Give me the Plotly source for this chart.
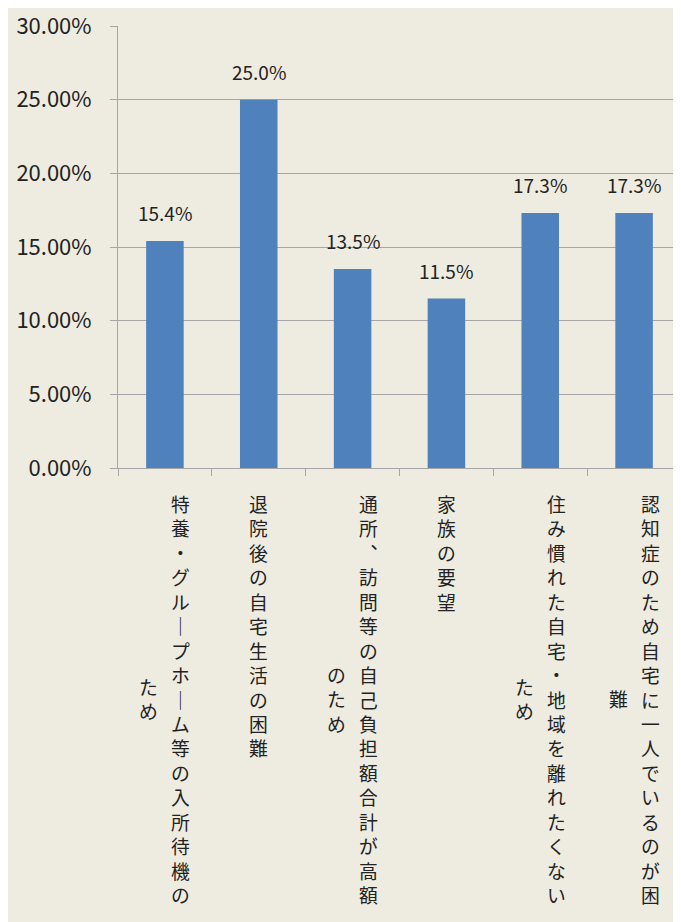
import plotly.graph_objects as go

categories = [
    "特養・グループホーム等の入所待機のため",
    "退院後の自宅生活の困難",
    "通所、訪問等の自己負担額合計が高額のため",
    "家族の要望",
    "住み慣れた自宅・地域を離れたくないため",
    "認知症のため自宅に一人でいるのが困難",
]
values = [0.154, 0.250, 0.135, 0.115, 0.173, 0.173]
value_labels = ["15.4%", "25.0%", "13.5%", "11.5%", "17.3%", "17.3%"]
tick_vals = [0, 0.05, 0.10, 0.15, 0.20, 0.25, 0.30]
tick_text = ["0.00%", "5.00%", "10.00%", "15.00%", "20.00%", "25.00%", "30.00%"]

BG = "#EEECE1"
BAR = "#4F81BD"
FONT = "Noto Sans CJK JP"
CHARS_PER_COL = 17
FS = 18.8
PITCH = FS * 1.3
VERT = {"ー": "｜", "、": "︑"}

fig = go.Figure()
fig.add_trace(go.Bar(
    x=list(range(len(categories))), y=values,
    marker=dict(color=BAR, line=dict(width=0)),
    hoverinfo="skip",
))

annotations = []
for i, (v, t) in enumerate(zip(values, value_labels)):
    annotations.append(dict(
        x=i, y=v, xref="x", yref="y", text=t, showarrow=False,
        yanchor="bottom", yshift=13,
        font=dict(family=FONT, size=19, color="#222222"),
    ))

for i, lab in enumerate(categories):
    cols = [lab[k:k + CHARS_PER_COL] for k in range(0, len(lab), CHARS_PER_COL)]
    nmax = max(len(c) for c in cols)
    center = 23 + nmax * PITCH / 2
    ncol = len(cols)
    for j, c in enumerate(cols):
        offset = ((ncol - 1) / 2 - j) * 32
        txt = "<br>".join(VERT.get(ch, ch) for ch in c)
        annotations.append(dict(
            x=i, y=0, xref="x", yref="paper", text=txt, showarrow=False,
            xanchor="center", yanchor="middle", xshift=offset, yshift=-center,
            align="center",
            font=dict(family=FONT, size=FS, color="#222222"),
        ))

fig.update_layout(
    width=673, height=914,
    paper_bgcolor=BG, plot_bgcolor=BG,
    margin=dict(l=110, r=0, t=16, b=454),
    showlegend=False,
    bargap=0.6,
    annotations=annotations,
    font=dict(family=FONT, color="#222222"),
    xaxis=dict(
        range=[-0.5, 5.5],
        showticklabels=False, showgrid=False, zeroline=False,
        showline=True, linecolor="#A6A6A6", linewidth=1,
        ticks="outside", ticklen=7, tickcolor="#A6A6A6",
        tickvals=[k - 0.5 for k in range(len(categories) + 1)],
    ),
    yaxis=dict(
        range=[0, 0.30], tickvals=tick_vals, ticktext=tick_text,
        showgrid=True, gridcolor="#A6A6A6", gridwidth=1, zeroline=False,
        showline=True, linecolor="#A6A6A6", linewidth=1,
        ticks="outside", ticklen=7, tickcolor="#A6A6A6",
        ticklabelstandoff=14, ticklabeloverflow="allow",
        tickfont=dict(family=FONT, size=22, color="#222222"),
    ),
)

fig.write_html("out.html")
